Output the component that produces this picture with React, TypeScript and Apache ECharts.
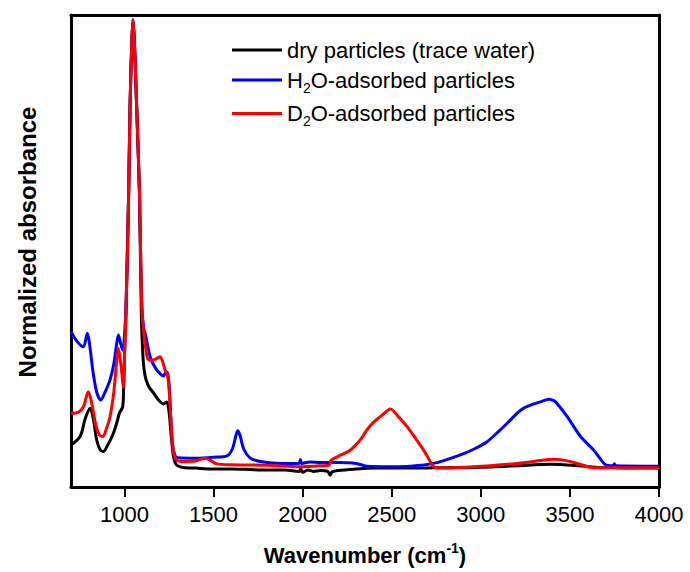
import React, { useEffect, useRef } from "react";
import * as echarts from "echarts";

const xTicks = [1000, 1500, 2000, 2500, 3000, 3500, 4000];

const seriesNames = [
  "dry particles (trace water)",
  "H2O-adsorbed particles",
  "D2O-adsorbed particles",
];

const dryData: [number, number][] = [
  [700, 0.089], [751, 0.107], [780, 0.145], [807, 0.167], [825, 0.145], [844, 0.1], [862, 0.08], [881, 0.075],
  [905, 0.088], [938, 0.114], [960, 0.14], [971, 0.156], [990, 0.17], [996, 0.22], [1002, 0.3], [1009, 0.37],
  [1024, 0.63], [1031, 0.8], [1041, 0.94], [1048, 0.99], [1056, 0.94], [1069, 0.8], [1084, 0.62], [1095, 0.36],
  [1105, 0.27], [1116, 0.235], [1130, 0.218], [1145, 0.208], [1162, 0.2], [1190, 0.185], [1218, 0.176],
  [1237, 0.18], [1250, 0.16], [1262, 0.11], [1275, 0.065], [1290, 0.048], [1320, 0.042], [1400, 0.04],
  [1500, 0.038], [1600, 0.038], [1700, 0.037], [1800, 0.036], [1900, 0.036], [1980, 0.033], [1990, 0.038],
  [2000, 0.031], [2030, 0.036], [2060, 0.033], [2100, 0.035], [2140, 0.033], [2155, 0.025], [2165, 0.032],
  [2200, 0.035], [2300, 0.038], [2400, 0.04], [2600, 0.04], [2800, 0.041], [3000, 0.042], [3200, 0.045],
  [3390, 0.048], [3550, 0.045], [3672, 0.041], [3740, 0.042], [3750, 0.049], [3760, 0.041], [4000, 0.04],
];

const h2oData: [number, number][] = [
  [700, 0.329], [735, 0.308], [769, 0.297], [792, 0.326], [805, 0.3], [825, 0.24], [845, 0.2], [867, 0.184],
  [890, 0.2], [919, 0.227], [940, 0.26], [955, 0.3], [966, 0.322], [978, 0.305], [990, 0.29], [1000, 0.32],
  [1009, 0.39], [1024, 0.63], [1031, 0.8], [1041, 0.94], [1048, 0.99], [1056, 0.94], [1069, 0.8], [1084, 0.63],
  [1097, 0.39], [1108, 0.335], [1116, 0.326], [1130, 0.3], [1144, 0.276], [1162, 0.26], [1181, 0.248],
  [1200, 0.24], [1219, 0.235], [1232, 0.243], [1241, 0.243], [1250, 0.22], [1260, 0.15], [1270, 0.09],
  [1284, 0.066], [1300, 0.062], [1400, 0.061], [1500, 0.063], [1575, 0.066], [1605, 0.08], [1625, 0.108],
  [1636, 0.119], [1648, 0.11], [1670, 0.08], [1706, 0.061], [1750, 0.055], [1800, 0.052], [1900, 0.05],
  [1980, 0.05], [1987, 0.058], [1995, 0.05], [2040, 0.053], [2100, 0.052], [2200, 0.052], [2300, 0.05],
  [2361, 0.044], [2500, 0.043], [2604, 0.044], [2735, 0.05], [2885, 0.068], [2960, 0.08], [3035, 0.096],
  [3100, 0.118], [3148, 0.135], [3200, 0.155], [3241, 0.167], [3297, 0.176], [3340, 0.181], [3381, 0.186],
  [3410, 0.183], [3428, 0.177], [3485, 0.149], [3560, 0.107], [3634, 0.078], [3670, 0.06], [3700, 0.047],
  [3747, 0.045], [4000, 0.044],
];

const d2oData: [number, number][] = [
  [700, 0.156], [740, 0.158], [770, 0.17], [797, 0.202], [815, 0.18], [840, 0.13], [860, 0.11], [878, 0.107],
  [900, 0.125], [919, 0.149], [940, 0.2], [955, 0.26], [966, 0.294], [980, 0.26], [994, 0.212], [1002, 0.3],
  [1009, 0.38], [1024, 0.63], [1031, 0.8], [1041, 0.94], [1048, 0.99], [1056, 0.94], [1069, 0.8], [1084, 0.63],
  [1097, 0.38], [1110, 0.32], [1116, 0.304], [1129, 0.273], [1145, 0.268], [1162, 0.269], [1185, 0.273],
  [1200, 0.276], [1215, 0.265], [1228, 0.248], [1241, 0.238], [1252, 0.2], [1262, 0.13], [1275, 0.075],
  [1290, 0.058], [1320, 0.054], [1400, 0.055], [1430, 0.059], [1453, 0.061], [1480, 0.057], [1519, 0.049],
  [1600, 0.047], [1800, 0.046], [1987, 0.043], [2100, 0.045], [2150, 0.047], [2160, 0.057], [2200, 0.065],
  [2267, 0.078], [2324, 0.1], [2361, 0.121], [2400, 0.138], [2436, 0.149], [2470, 0.16], [2492, 0.165],
  [2540, 0.148], [2586, 0.128], [2630, 0.105], [2679, 0.078], [2710, 0.058], [2735, 0.043], [2760, 0.04],
  [3000, 0.044], [3200, 0.05], [3297, 0.054], [3410, 0.059], [3450, 0.058], [3522, 0.052], [3634, 0.041],
  [4000, 0.041],
];

const colors = ["#000000", "#0000ff", "#ff0000"];
const FONT = "'Liberation Sans', Arial, Helvetica, sans-serif";

export default function App() {
  const ref = useRef<HTMLDivElement>(null);
  useEffect(() => {
    if (!ref.current) return;
    document.body.style.margin = "0";
    const chart = echarts.init(ref.current, null, { renderer: "svg" });
    const datasets = [dryData, h2oData, d2oData];
    const frameLine = { show: true, onZero: false, lineStyle: { color: "#000", width: 3 } };
    chart.setOption({
      animation: false,
      backgroundColor: "#fff",
      textStyle: { fontFamily: FONT },
      grid: { left: 71, right: 31, top: 15, bottom: 85, containLabel: false },
      legend: {
        orient: "vertical",
        left: 232,
        top: 39,
        padding: 0,
        itemGap: 8,
        itemWidth: 50,
        itemHeight: 3,
        icon: "rect",
        data: seriesNames,
        formatter: (name: string) => {
          if (name.startsWith("H2O")) return "{n|H}{s|2}{n|O-adsorbed particles}";
          if (name.startsWith("D2O")) return "{n|D}{s|2}{n|O-adsorbed particles}";
          return "{n|" + name + "}";
        },
        textStyle: {
          fontFamily: FONT,
          color: "#000",
          rich: {
            n: { fontSize: 22, lineHeight: 28, fontFamily: FONT, color: "#000" },
            s: { fontSize: 14, lineHeight: 29, verticalAlign: "bottom", fontFamily: FONT, color: "#000" },
          },
        },
      },
      xAxis: [
        {
          type: "value",
          min: 700,
          max: 4000,
          position: "bottom",
          axisLine: frameLine,
          axisTick: { show: true, inside: false, length: 10, lineStyle: { color: "#000", width: 2 }, customValues: xTicks },
          axisLabel: {
            show: true,
            customValues: xTicks,
            margin: 16,
            fontSize: 22,
            color: "#000",
            fontFamily: FONT,
            formatter: (v: number) => String(v),
          },
          splitLine: { show: false },
          name: "{b|Wavenumber (cm}{sup|-1}{b|)}",
          nameLocation: "middle",
          nameGap: 54,
          nameTextStyle: {
            rich: {
              b: { fontSize: 22, fontWeight: "bold", lineHeight: 28, fontFamily: FONT, color: "#000" },
              sup: { fontSize: 14, fontWeight: "bold", lineHeight: 28, verticalAlign: "top", fontFamily: FONT, color: "#000" },
            },
          },
        },
        {
          type: "value",
          min: 700,
          max: 4000,
          position: "top",
          axisLine: frameLine,
          axisTick: { show: false },
          axisLabel: { show: false },
          splitLine: { show: false },
        },
      ],
      yAxis: [
        {
          type: "value",
          min: 0,
          max: 1,
          position: "left",
          axisLine: frameLine,
          axisTick: { show: false },
          axisLabel: { show: false },
          splitLine: { show: false },
          name: "Normalized absorbance",
          nameLocation: "middle",
          nameGap: 32,
          nameTextStyle: { fontSize: 24, fontWeight: "bold", color: "#000", fontFamily: FONT, padding: [0, 0, 0, 18] },
        },
        {
          type: "value",
          min: 0,
          max: 1,
          position: "right",
          axisLine: frameLine,
          axisTick: { show: false },
          axisLabel: { show: false },
          splitLine: { show: false },
        },
      ],
      series: datasets.map((d, i) => ({
        name: seriesNames[i],
        type: "line",
        data: d,
        xAxisIndex: 0,
        yAxisIndex: 0,
        showSymbol: false,
        symbol: "none",
        smooth: 0.3,
        lineStyle: { color: colors[i], width: 3 },
        itemStyle: { color: colors[i] },
        z: 2 + i,
      })),
    });
    return () => chart.dispose();
  }, []);
  return <div ref={ref} style={{ width: 690, height: 572 }} />;
}
